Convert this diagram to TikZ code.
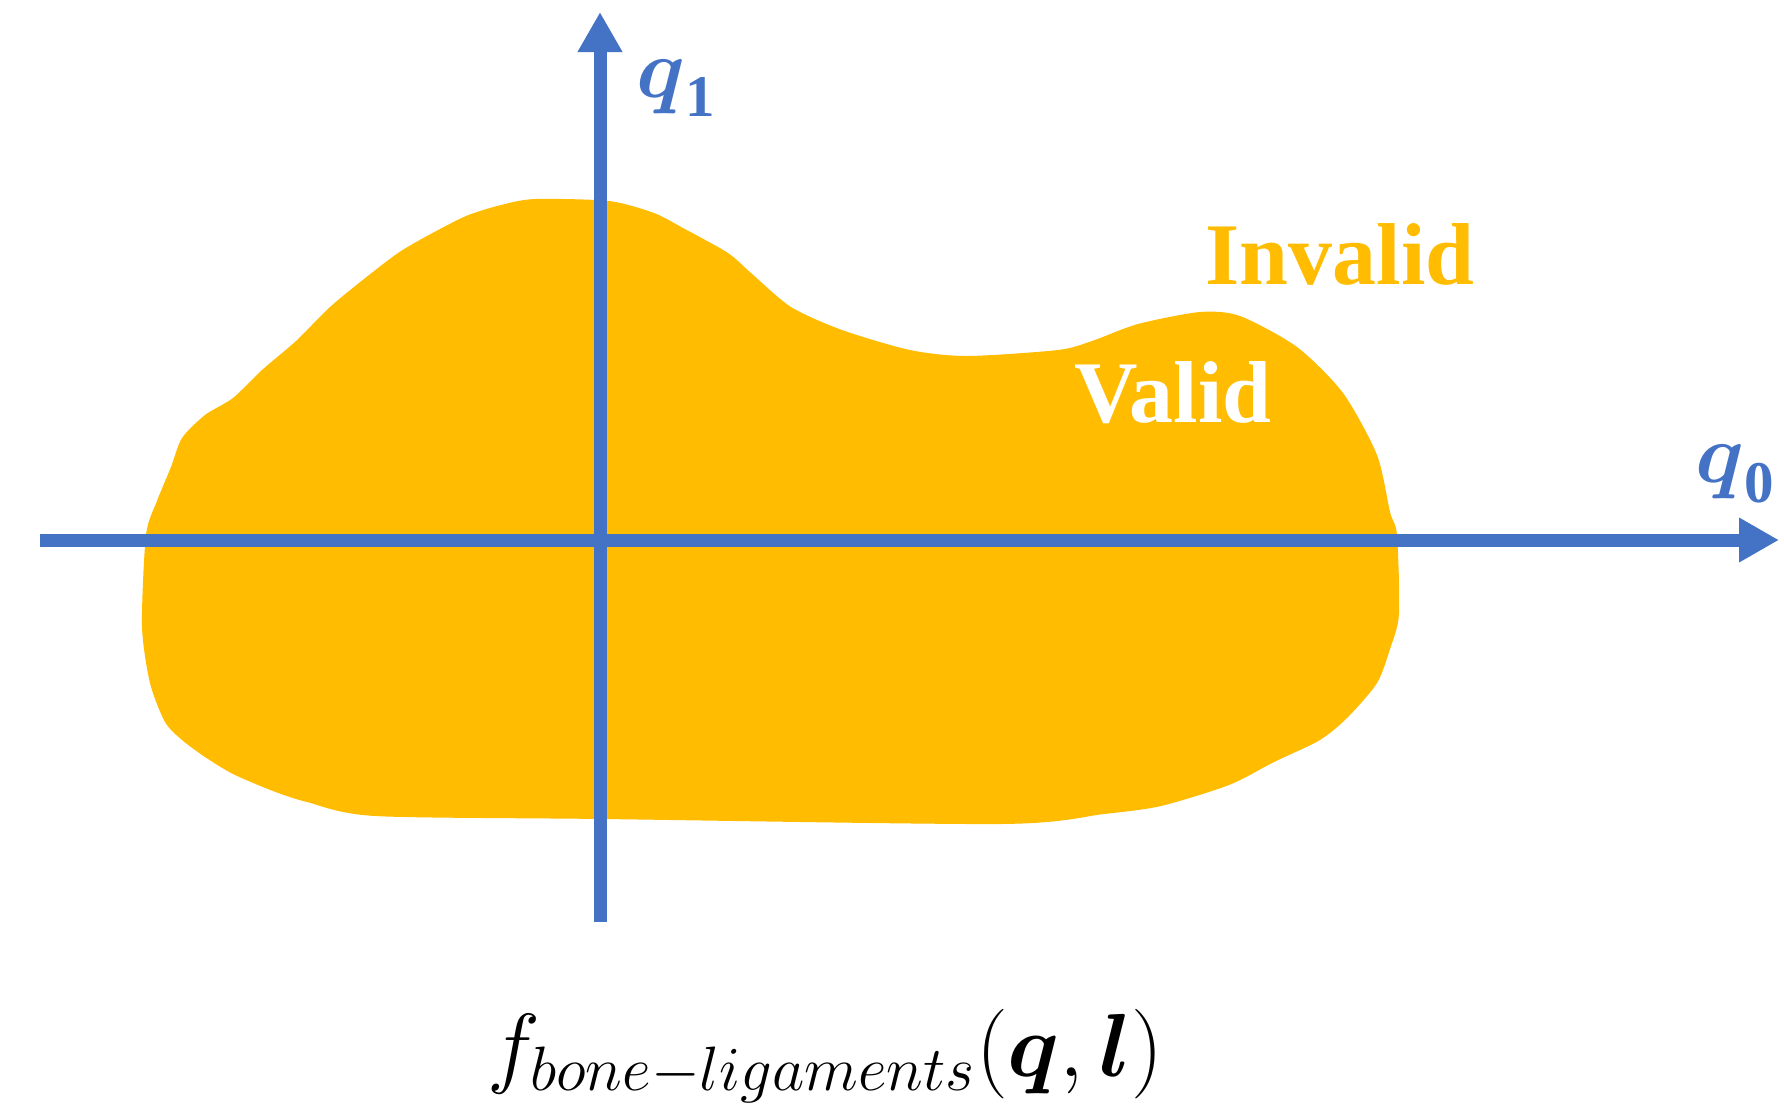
\documentclass[tikz,border=0pt]{standalone}
\usepackage{fix-cm}
\usepackage{amsmath,amssymb}
\usepackage{fontspec}
\usepackage{tikz}
\usetikzlibrary{arrows.meta}
\newfontfamily\regionfont{Liberation Serif}
\newcommand{\axisidx}[1]{\text{\regionfont\bfseries #1}}
\definecolor{axisblue}{HTML}{4472C4}
\definecolor{validgold}{HTML}{FFBC00}

\begin{document}
\begin{tikzpicture}[x=0.1mm,y=-0.1mm,
  axis/.style={axisblue,line width=1.3mm,-{Triangle[length=4mm,width=4.2mm]}},
  axislabel/.style={axisblue,inner sep=0pt,font=\fontsize{24}{28}\selectfont},
  regionlabel/.style={font=\regionfont\bfseries\fontsize{25}{30}\selectfont}]
\useasboundingbox (0,0) rectangle (1784,1104);
% valid region
\fill[validgold] plot[smooth cycle,tension=0.45] coordinates {
  (146,535) (142,626) (150,683) (165,722) (182,740) (205,757) (233,774)
  (273,791) (307,802) (375,816) (603,819) (1001,824) (1104,814) (1161,806)
  (1229,785) (1274,762) (1320,740) (1348,717) (1377,683) (1390,649)
  (1399,614) (1397,535) (1390,512) (1377,455) (1343,393) (1297,347)
  (1240,316) (1200,312) (1138,324) (1092,341) (1058,350) (967,356)
  (910,350) (842,330) (791,307) (751,273) (728,253) (683,228) (654,213)
  (609,201) (535,199) (501,205) (466,216) (427,236) (398,253) (364,279)
  (330,307) (296,341) (262,370) (233,398) (205,415) (182,438) (171,467)
  (157,501)};
% axes
\coordinate (q0start) at (40,540);
\coordinate (q0end) at (1779,540);
\coordinate (q1start) at (600,922);
\coordinate (q1end) at (600,12);
\draw[axis] (q0start) -- (q0end);
\draw[axis] (q1start) -- (q1end);
\node[axislabel] (q1lab) at (677,88) {$\boldsymbol{q}_{\axisidx{1}}$};
\node[axislabel] (q0lab) at (1736,474) {$\boldsymbol{q}_{\axisidx{0}}$};
% labels
\node[regionlabel,text=validgold] (invalid) at (1340,254) {Invalid};
\node[regionlabel,text=white] (valid) at (1173,393) {Valid};
\node[font=\fontsize{25.5}{30}\selectfont] (fbl) at (825,1056)
  {$f_{bone-ligaments}(\boldsymbol{q},\boldsymbol{l})$};
\end{tikzpicture}
\end{document}
